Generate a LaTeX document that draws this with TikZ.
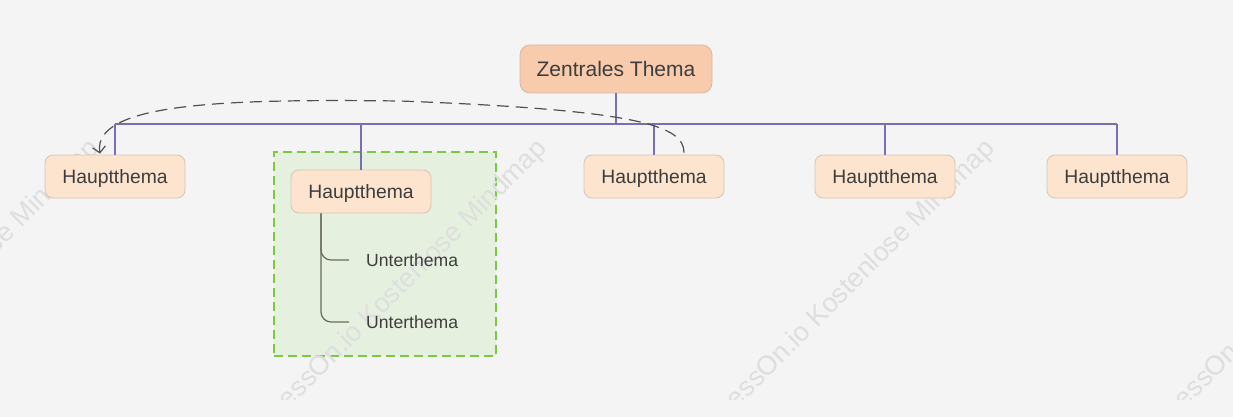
\documentclass[tikz,border=0pt]{standalone}
\usepackage{fontspec}
\setmainfont{Liberation Sans}
\usetikzlibrary{arrows.meta}
\definecolor{bg}{HTML}{F4F4F4}
\definecolor{cfill}{HTML}{F8CBAD}
\definecolor{cborder}{HTML}{D3B9A6}
\definecolor{hfill}{HTML}{FDE4CF}
\definecolor{hborder}{HTML}{D8C3B3}
\definecolor{txt}{HTML}{3D3D3D}
\definecolor{bus}{HTML}{7670B0}
\definecolor{subline}{HTML}{6B6B5C}
\definecolor{grpfill}{HTML}{E5F0DE}
\definecolor{grpline}{HTML}{7AC943}
\definecolor{wm}{HTML}{DEDEDE}
\definecolor{rel}{HTML}{505050}
\tikzset{
  central/.style={draw=cborder, fill=cfill, rounded corners=10pt, minimum width=192pt,
    minimum height=48pt, inner sep=0pt, text=txt, line width=0.8pt,
    font=\fontsize{21}{24}\selectfont},
  mainbox/.style={draw=hborder, fill=hfill, rounded corners=8pt, minimum width=140pt,
    minimum height=43pt, inner sep=0pt, text=txt, line width=0.8pt, text depth=0pt,
    font=\fontsize{19.3}{22}\selectfont},
  subtopic/.style={anchor=west, inner xsep=17pt, inner ysep=0pt, text=txt,
    font=\fontsize{17.6}{21}\selectfont},
  busline/.style={draw=bus, line width=1.2pt},
  subconn/.style={draw=subline, line width=1.2pt, rounded corners=10pt},
  grpbox/.style={draw=grpline, fill=grpfill, line width=2.6pt, dash pattern=on 9pt off 5pt,
    minimum width=222pt, minimum height=204pt, inner sep=0pt},
  watermark/.style={text=wm, rotate=45, anchor=base east, inner sep=0pt,
    font=\fontsize{27}{30}\selectfont},
  relation/.style={draw=rel, line width=1.2pt, dash pattern=on 12pt off 7pt,
    -{Straight Barb[length=6pt,width=13pt,line width=1.2pt]}}
}
\begin{document}
\begin{tikzpicture}[x=1pt,y=-1pt]
\useasboundingbox (0,0) rectangle (1233,417);
\fill[bg] (0,0) rectangle (1233,417);

% group frame
\node[grpbox] (grp) at (385,254) {};

% watermarks
\begin{scope}
\clip (0,0) rectangle (1233,399);
\node[watermark] (wm1) at (100,150) {ProcessOn.io Kostenlose Mindmap};
\node[watermark] (wm2) at (548,150) {ProcessOn.io Kostenlose Mindmap};
\node[watermark] (wm3) at (996,150) {ProcessOn.io Kostenlose Mindmap};
\node[watermark] (wm4) at (1444,150) {ProcessOn.io Kostenlose Mindmap};
\end{scope}

% nodes
\node[central] (c) at (616,69) {Zentrales Thema};
\node[mainbox] (h1) at (115,176.5) {Hauptthema};
\node[mainbox] (h2) at (361,191.5) {Hauptthema};
\node[mainbox] (h3) at (654,176.5) {Hauptthema};
\node[mainbox] (h4) at (885,176.5) {Hauptthema};
\node[mainbox] (h5) at (1117,176.5) {Hauptthema};
\node[subtopic] (u1) at (349,260) {Unterthema};
\node[subtopic] (u2) at (349,322) {Unterthema};

% tree connectors
\coordinate (busy) at (0,124);
\draw[busline] (c.south) -- (c.south |- busy);
\draw[busline] (h1.north |- busy) -- (h5.north |- busy);
\foreach \n in {h1,h2,h3,h4,h5} {
  \draw[busline] (\n.north) -- (\n.north |- busy);
}
\coordinate (stem) at ([xshift=-40pt]h2.south);
\draw[subconn] (stem) |- (u1.west);
\draw[subconn] (stem) |- (u2.west);

% relation arrow
\coordinate (rs) at ([xshift=30pt,yshift=2pt]h3.north);
\coordinate (re) at ([xshift=-15pt,yshift=1pt]h1.north);
\draw[relation] (rs) .. controls (684,126) and (640,110) .. (400,101)
  .. controls (230,99) and (92,102) .. (re);
\end{tikzpicture}
\end{document}
